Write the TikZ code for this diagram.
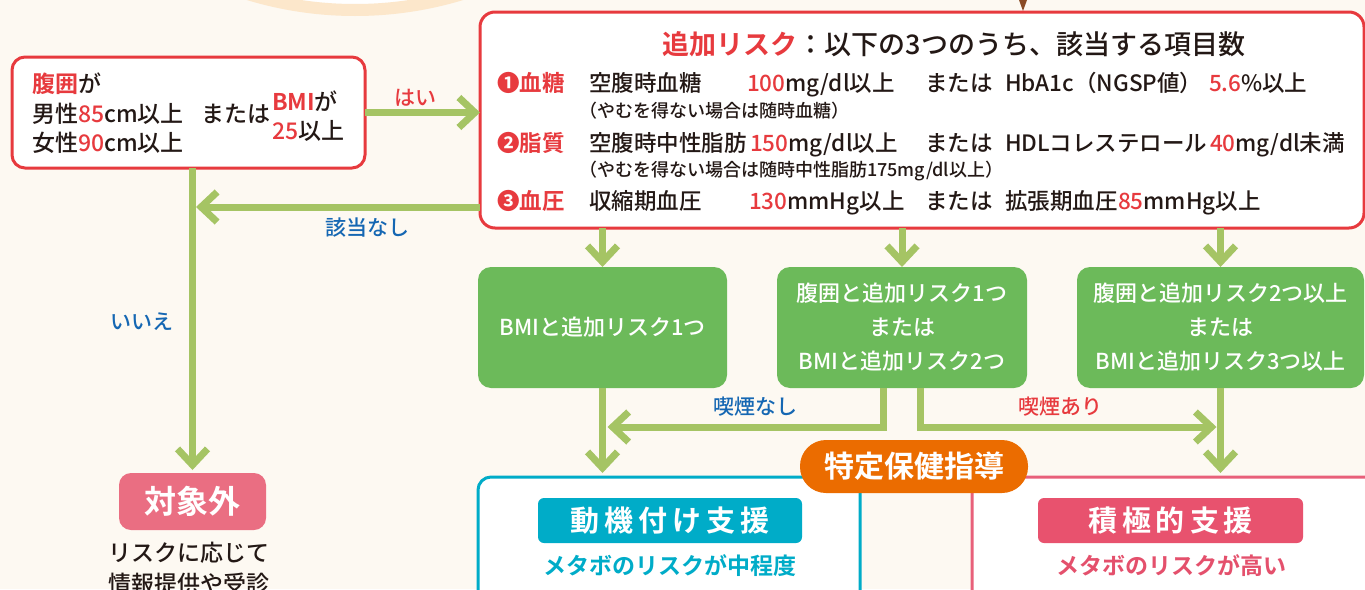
\documentclass[tikz,border=0pt]{standalone}
\usepackage{fontspec}
\setmainfont{Noto Sans CJK JP}[UprightFont=* Medium, BoldFont=* Bold]
\usetikzlibrary{arrows.meta,calc}
\definecolor{bg}{RGB}{253,249,242}
\definecolor{peach}{RGB}{252,231,203}
\definecolor{brownc}{RGB}{138,75,38}
\definecolor{redc}{RGB}{231,58,62}
\definecolor{ink}{RGB}{35,24,21}
\definecolor{garrow}{RGB}{165,196,100}
\definecolor{gboxc}{RGB}{108,186,90}
\definecolor{bluec}{RGB}{21,103,179}
\definecolor{tealc}{RGB}{0,172,200}
\definecolor{pinkh}{RGB}{232,82,110}
\definecolor{pinkb}{RGB}{232,96,122}
\definecolor{pinkt}{RGB}{228,80,108}
\definecolor{outc}{RGB}{234,110,130}
\definecolor{orangec}{RGB}{235,108,0}
\newcommand{\hsp}{\hspace{5pt}}
\tikzset{
  every node/.style={inner sep=0pt, outer sep=0pt},
  txt/.style={anchor=base west, text=ink, font=\fontsize{22.5pt}{26pt}\selectfont},
  qtxt/.style={anchor=base west, text=ink, font=\fontsize{23pt}{26pt}\selectfont},
  small/.style={anchor=base west, text=ink, font=\fontsize{18pt}{20pt}\selectfont},
  lbl/.style={font=\fontsize{21pt}{23pt}\selectfont},
  rbox/.style={draw=redc, line width=3pt, fill=white, rounded corners=13pt, anchor=north west},
  gbox/.style={fill=gboxc, rounded corners=13pt, text=white, align=center, anchor=north west,
    font=\fontsize{22pt}{34pt}\selectfont, minimum height=121pt},
  garr/.style={draw=garrow, line width=7pt, -{Straight Barb[length=16pt,width=30pt]}},
  outbox/.style={draw, line width=3pt, fill=white, rounded corners=13pt, anchor=north west,
    minimum height=150pt},
  head/.style={rounded corners=6pt, minimum width=264pt, minimum height=45pt, text=white,
    font=\fontsize{29pt}{31pt}\selectfont\bfseries},
  subt/.style={anchor=base, font=\fontsize{23pt}{25pt}\selectfont\bfseries},
  rlab/.style={anchor=base west, text=redc, font=\fontsize{22.5pt}{26pt}\selectfont\bfseries},
}
\begin{document}
\begin{tikzpicture}[x=1pt,y=-1pt]
\useasboundingbox (0,0) rectangle (1365,589);
\clip (0,0) rectangle (1365,589);
\fill[bg] (0,0) rectangle (1365,589);
% top decoration
\draw[peach, line width=12pt, fill=white] (355,-356) circle [radius=366pt];
\fill[brownc] (1019,0) -- (1027,0) -- (1023,11) -- cycle;

% question box
\node[rbox, minimum width=353pt, minimum height=111pt] (q) at (12,57) {};
\node[qtxt] (q1) at (32,92) {{\bfseries\color{redc}腹囲}が};
\node[qtxt] (q2) at (32,122) {男性{\color{redc}85}cm以上};
\node[qtxt] (q3) at (201,122) {または};
\node[qtxt] (q4) at (32,151) {女性{\color{redc}90}cm以上};
\node[qtxt] (q5) at (272,110) {{\bfseries\color{redc}BMI}が};
\node[qtxt] (q6) at (272,139) {{\color{redc}25}以上};

% additional risk box
\node[rbox, minimum width=884pt, minimum height=216pt, rounded corners=15pt] (big) at (480,12) {};
\node[anchor=base, text=ink, font=\fontsize{27pt}{30pt}\selectfont] (title) at (954,54)
  {{\bfseries\color{redc}追加リスク}：以下の3つのうち、該当する項目数};
% row 1
\node[rlab] (r1a) at (497,91) {❶血糖};
\node[txt] (r1b) at (589,91) {空腹時血糖};
\node[txt] (r1c) at (747,91) {{\color{redc}100}mg/dl以上};
\node[txt] (r1d) at (925,91) {または};
\node[txt] (r1e) at (1005,91) {HbA1c（NGSP値）};
\node[txt] (r1f) at (1209,91) {{\color{redc}5.6}\%以上};
\node[small] (s1) at (579,117) {（やむを得ない場合は随時血糖）};
% row 2
\node[rlab] (r2a) at (497,151) {❷脂質};
\node[txt] (r2b) at (589,151) {空腹時中性脂肪};
\node[txt] (r2c) at (750,151) {{\color{redc}150}mg/dl以上};
\node[txt] (r2d) at (925,151) {または};
\node[txt] (r2e) at (1005,151) {HDLコレステロール};
\node[txt] (r2f) at (1210,151) {{\color{redc}40}mg/dl未満};
\node[small] (s2) at (579,176) {（やむを得ない場合は随時中性脂肪175mg/dl以上）};
% row 3
\node[rlab] (r3a) at (497,209) {❸血圧};
\node[txt] (r3b) at (589,209) {収縮期血圧};
\node[txt] (r3c) at (749,209) {{\color{redc}130}mmHg以上};
\node[txt] (r3d) at (925,209) {または};
\node[txt] (r3e) at (1005,209) {拡張期血圧};
\node[txt] (r3f) at (1118,209) {{\color{redc}85}mmHg以上};

% green boxes
\node[gbox, minimum width=249pt] (ga) at (478,267) {BMIと追加リスク1つ};
\node[gbox, minimum width=250pt] (gb) at (777,267) {腹囲と追加リスク1つ\\または\\BMIと追加リスク2つ};
\node[gbox, minimum width=287pt] (gc) at (1077,267) {腹囲と追加リスク2つ以上\\または\\BMIと追加リスク3つ以上};

% out of scope
\node[fill=outc, rounded corners=12pt, minimum width=147pt, minimum height=57pt, text=white,
  font=\fontsize{32pt}{34pt}\selectfont\bfseries] (out) at (192.5,501.5) {対象外};
\node[qtxt, anchor=base] (o1) at (189,561) {リスクに応じて};
\node[qtxt, anchor=base] (o2) at (189,592) {情報提供や受診};

% bottom boxes
\node[outbox, draw=tealc, minimum width=382pt] (tb) at (478,477) {};
\node[outbox, draw=pinkb, minimum width=420pt] (pb) at (972,477) {};
\node[head, fill=tealc] (th) at (670,520.5) {動\hsp 機\hsp 付\hsp け\hsp 支\hsp 援};
\node[head, fill=pinkh, minimum width=265pt] (ph) at (1170.5,520.5) {積\hsp 極\hsp 的\hsp 支\hsp 援};
\node[subt, text=tealc] (ts) at (670,574) {メタボのリスクが中程度};
\node[subt, text=pinkt] (ps) at (1171,574) {メタボのリスクが高い};
\node[fill=orangec, rounded corners=26pt, minimum width=228pt, minimum height=53pt, text=white,
  font=\fontsize{30pt}{32pt}\selectfont\bfseries] (tk) at (914,466.5) {特定保健指導};

% connectors
\draw[garr] (q.east) -- (q.east -| big.west);
\node[lbl, text=redc] (hai) at (415,98) {はい};
\draw[garr] (big.west |- 0,207) -- ([xshift=3.5pt]out.north |- 0,207);
\node[lbl, text=bluec] (gnashi) at (367,228) {該当なし};
\draw[garr, shorten >=3pt] (q.south -| out.north) -- (out.north);
\node[lbl, text=bluec] (iie) at (142,322) {いいえ};
\draw[garr] (big.south -| ga.north) -- (ga.north);
\draw[garr] (big.south -| gb.north) -- (gb.north);
\draw[garr] (big.south -| gc.north) -- (gc.north);
\draw[garr, shorten >=4pt] (ga.south) -- (ga.south |- tb.north);
\draw[garr, shorten >=4pt] (gc.south) -- (gc.south |- pb.north);
\draw[garr] ([xshift=-19pt]gb.south) |- ([xshift=5pt]ga.south |- 0,427);
\draw[garr] ([xshift=18pt]gb.south) |- ([xshift=-4pt]gc.south |- 0,427);
\node[lbl, text=bluec] (kn) at (755,407) {喫煙なし};
\node[lbl, text=redc] (ka) at (1060,407) {喫煙あり};
\end{tikzpicture}
\end{document}
